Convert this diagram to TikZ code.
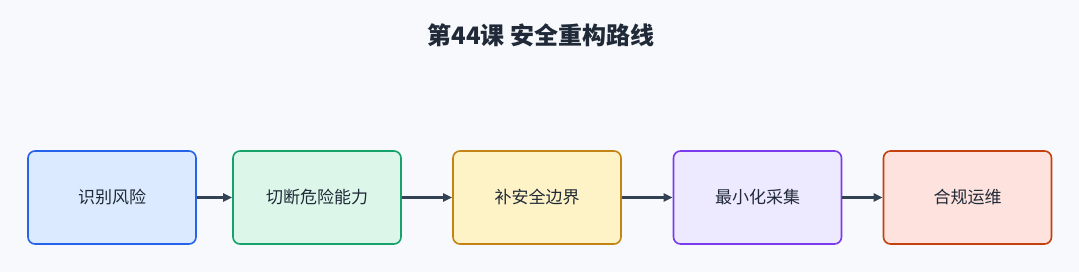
\documentclass[tikz,border=0pt]{standalone}
\usepackage{fontspec}
\setmainfont{Noto Sans CJK SC}
\usepackage{tikz}
\usetikzlibrary{arrows.meta}
\definecolor{bgcol}{HTML}{F8F9FC}
\definecolor{inkcol}{HTML}{1F2937}
\definecolor{arrcol}{HTML}{334155}
\tikzset{
  stepbox/.style={draw, line width=1.6pt, rounded corners=7pt, minimum width=168pt, minimum height=93pt, inner sep=0pt, font=\fontsize{17}{20}\selectfont, text=inkcol},
  flow/.style={-{Triangle[length=9pt, width=8pt]}, line width=2.6pt, draw=arrcol, fill=arrcol}
}

\begin{document}
\begin{tikzpicture}[x=1pt, y=1pt]
		\fill[bgcol] (0,0) rectangle (1079,272);
		\useasboundingbox (0,0) rectangle (1079,272);
		\node[font=\fontsize{24}{28}\selectfont\bfseries, text=inkcol] (title) at (541,237) {第44课 安全重构路线};
		\node[stepbox, draw={rgb,255:red,37;green,99;blue,235}, fill={rgb,255:red,219;green,234;blue,254}] (risk) at (112,74.5) {识别风险};
		\node[stepbox, draw={rgb,255:red,22;green,163;blue,106}, fill={rgb,255:red,220;green,247;blue,234}] (cut) at (317,74.5) {切断危险能力};
		\node[stepbox, draw={rgb,255:red,196;green,132;blue,20}, fill={rgb,255:red,254;green,243;blue,199}] (edge) at (537,74.5) {补安全边界};
		\node[stepbox, draw={rgb,255:red,124;green,58;blue,237}, fill={rgb,255:red,237;green,233;blue,254}] (mini) at (757.5,74.5) {最小化采集};
		\node[stepbox, draw={rgb,255:red,194;green,65;blue,12}, fill={rgb,255:red,254;green,226;blue,222}] (ops) at (967.5,74.5) {合规运维};
		\draw[flow] (risk) -- (cut);
		\draw[flow] (cut) -- (edge);
		\draw[flow] (edge) -- (mini);
		\draw[flow] (mini) -- (ops);
	\end{tikzpicture}
\end{document}
